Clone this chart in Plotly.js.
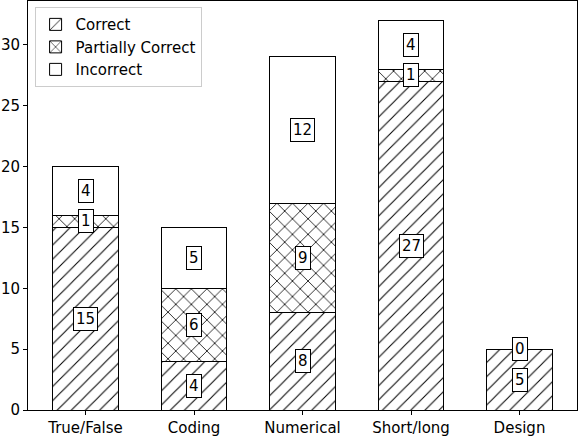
<!DOCTYPE html>
<html>
<head>
<meta charset="utf-8">
<script src="https://cdn.plot.ly/plotly-3.0.1.min.js"></script>
<style>html,body{margin:0;padding:0;background:#fff;}#chart{width:578px;height:436px;}</style>
</head>
<body>
<div id="chart"></div>
<script>
const categories = ["True/False", "Coding", "Numerical", "Short/long", "Design"];
const correct = [15, 4, 8, 27, 5];
const partial = [1, 6, 9, 1, 0];
const incorrect = [4, 5, 12, 4, 0];
const seriesNames = ["Correct", "Partially Correct", "Incorrect"];

const font = "DejaVu Sans, sans-serif";
const series = [correct, partial, incorrect];
const shapes = ["/", "x", ""];
const psize = [10, 11, 10];
const psolid = [0.1, 0.14, 0.1];

const traces = series.map((vals, i) => ({
  type: "bar",
  name: seriesNames[i],
  x: categories,
  y: vals,
  width: 0.6,
  marker: {
    color: "white",
    line: {color: "black", width: 1},
    pattern: {shape: shapes[i], fgcolor: "black", fgopacity: 1, bgcolor: "white", size: psize[i], solidity: psolid[i], fillmode: "overlay"}
  },
  hoverinfo: "skip"
}));

const annotations = [];
categories.forEach((c, j) => {
  let base = 0;
  series.forEach(vals => {
    const v = vals[j];
    annotations.push({
      x: c, y: base + v / 2, xref: "x", yref: "y",
      text: String(v), showarrow: false,
      font: {family: font, size: 15, color: "black"},
      bgcolor: "white", bordercolor: "black", borderwidth: 1, borderpad: 2
    });
    base += v;
  });
});

const layout = {
  width: 578, height: 436,
  margin: {l: 28, r: 1, t: 1, b: 26},
  paper_bgcolor: "white", plot_bgcolor: "white",
  barmode: "stack",
  showlegend: true,
  legend: {
    x: 0.012, y: 0.985, xanchor: "left", yanchor: "top",
    bgcolor: "rgba(255,255,255,0.8)", bordercolor: "#cccccc", borderwidth: 1,
    font: {family: font, size: 15, color: "black"},
    traceorder: "normal", itemwidth: 30
  },
  xaxis: {
    range: [-0.53, 4.53],
    showline: true, linecolor: "black", linewidth: 1, mirror: true,
    ticks: "outside", ticklen: 4, tickcolor: "black",
    tickfont: {family: font, size: 15, color: "black"},
    showgrid: false, zeroline: false
  },
  yaxis: {
    range: [0, 33.6],
    tickvals: [0, 5, 10, 15, 20, 25, 30],
    showline: true, linecolor: "black", linewidth: 1, mirror: true,
    ticks: "outside", ticklen: 4, tickcolor: "black",
    tickfont: {family: font, size: 15, color: "black"},
    showgrid: false, zeroline: false
  },
  annotations: annotations
};

Plotly.newPlot("chart", traces, layout, {displayModeBar: false, staticPlot: true});
</script>
</body>
</html>
